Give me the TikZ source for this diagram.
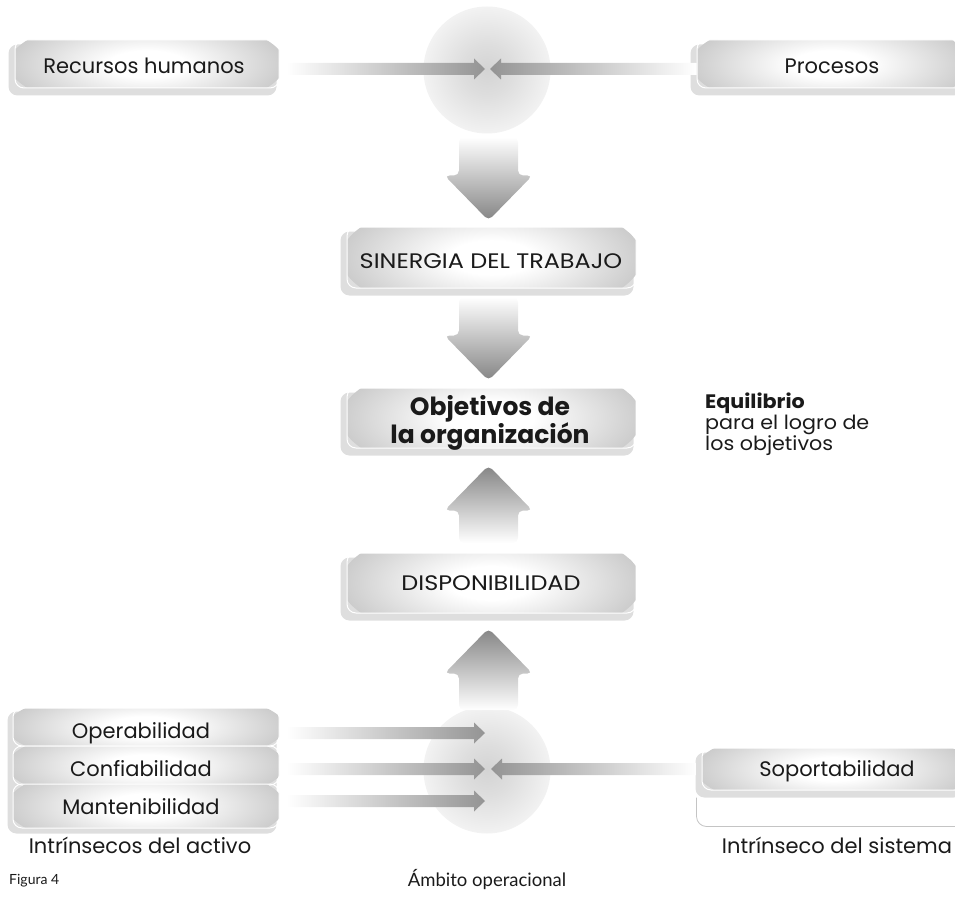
\documentclass[tikz,border=0pt]{standalone}
\usepackage{fontspec}
\setmainfont{Poppins}
\newfontfamily\capsfont[FakeStretch=1.14]{Poppins}
\newfontfamily\eqfont[FakeStretch=1.06]{Poppins}
\newfontfamily\capfont{Lato}
\usetikzlibrary{calc,backgrounds}
\definecolor{txt}{HTML}{1A1A1A}
\definecolor{rimline}{HTML}{C4C4C4}
\pgfdeclareradialshading{boxshade}{\pgfpoint{0bp}{0bp}}{color(0bp)=(white); color(7bp)=(white); color(25bp)=(white!80!black); color(50bp)=(white!80!black)}
\pgfdeclareradialshading{ballshade}{\pgfpoint{0bp}{0bp}}{color(0bp)=(white!83!black); color(10bp)=(white!87!black); color(25bp)=(white!95!black); color(50bp)=(white!95!black)}
\newcommand\blockarrowh[4]{%
  \path[#4] ($(#1)+(0,-6)$) -- ($(#2)+({-11*#3},-6)$) -- ($(#2)+({-11*#3},-10.5)$) -- (#2) -- ($(#2)+({-11*#3},10.5)$) -- ($(#2)+({-11*#3},6)$) -- ($(#1)+(0,6)$) -- cycle;}
\newcommand\blockarrowv[4]{%
  \path[#4, rounded corners=5pt] ($(#1)+(-29.5,0)$) -- ($(#2)+(-29.5,{-45*#3})$) -- ($(#2)+(-44,{-45*#3})$) -- (#2) -- ($(#2)+(44,{-45*#3})$) -- ($(#2)+(29.5,{-45*#3})$) -- ($(#1)+(29.5,0)$) -- cycle;}
\tikzset{
  gbox/.style 2 args={rounded corners=9pt, draw=white, line width=1pt, inner sep=0pt,
    minimum width=#1pt, minimum height=#2pt,
    path picture={\shade[shading=boxshade] (path picture bounding box.center) ellipse ({#1/2+6} and {#2*1.0});}},
  backbox/.style={fill=white!87!black, rounded corners=9pt},
  lbl/.style={text=txt, font=\fontsize{21}{24}\selectfont, inner sep=0pt, text height=0.7em, text depth=0pt},
  capslbl/.style={lbl, font=\capsfont\fontsize{21}{24}\selectfont},
  ball/.style={shade, shading=ballshade},
  arrR/.style={shade, left color=white, right color=white!58!black},
  arrL/.style={shade, right color=white, left color=white!58!black},
  arrD/.style={shade, top color=white, bottom color=white!52!black},
  arrU/.style={shade, bottom color=white, top color=white!52!black},
}
\begin{document}
\begin{tikzpicture}[x=1pt,y=-1pt]
\useasboundingbox (0,0) rectangle (955,920);
\clip (0,0) rectangle (955,920);

% circles
\path[ball] (487,70) circle (63.5) coordinate (ctop);
\path[ball] (487,770) circle (63.5) coordinate (cbot);
\coordinate (ctopc) at (487,70);
\coordinate (cbotc) at (487,770);

% boxes
\node[gbox={264}{48}] (rhbox) at (147,64) {};
\node[gbox={268}{48}] (prbox) at (831,64) {};
\node[gbox={289}{61}] (sybox) at (491.5,257.5) {};
\node[gbox={289}{60}] (obbox) at (491.5,418) {};
\node[gbox={289}{60}] (dibox) at (491.5,583) {};
\node[gbox={266}{38}] (opbox) at (146,727) {};
\node[gbox={266}{39}] (cobox) at (146,765.5) {};
\node[gbox={266}{44}] (mabox) at (146,806) {};
\node[gbox={263}{42}] (sobox) at (833.5,769) {};

\begin{scope}[on background layer]
  \foreach \b in {rhbox,prbox,sybox,obbox,dibox,sobox}{
    \path[backbox] ($(\b.south west)+(-6,7)$) rectangle ($(\b.north east)+(-3,5)$);
  }
  \path[backbox] ($(mabox.south west)+(-5,5)$) rectangle ($(opbox.north east)+(-3,4)$);
\end{scope}

% labels
\node[lbl] (rh) at (144,70) {Recursos humanos};
\node[lbl] (pr) at (832,70) {Procesos};
\node[capslbl] (sy) at (491,265) {SINERGIA DEL TRABAJO};
\node[text=txt, align=center, inner sep=0pt, font=\bfseries\fontsize{25}{25}\selectfont] (ob) at (490,423) {Objetivos de\\la organización};
\node[capslbl] (di) at (491,587) {DISPONIBILIDAD};
\node[lbl] (op) at (141,735) {Operabilidad};
\node[lbl] (co) at (141,773) {Confiabilidad};
\node[lbl] (ma) at (141,811) {Mantenibilidad};
\node[lbl] (so) at (837,773) {Soportabilidad};
\node[lbl] (ia) at (140,850) {Intrínsecos del activo};
\node[lbl] (is) at (837,850) {Intrínseco del sistema};
\node[anchor=north west, align=left, inner sep=0pt, text=txt, font=\eqfont\fontsize{19.5}{19.5}\selectfont] (eq) at (705,393) {\textbf{Equilibrio}\\para el logro de\\los objetivos};
\node[anchor=west, inner sep=0pt, text=txt, font=\capfont\fontsize{14}{16}\selectfont] (fig) at (9,881) {Figura 4};
\node[inner sep=0pt, text=txt, font=\capfont\fontsize{18.5}{21}\selectfont] (amb) at (487,880) {Ámbito operacional};

% soportabilidad outline
\draw[rimline, line width=0.8pt, rounded corners=10pt] ($(sobox.south west)+(-5,7)$) coordinate (rl1) -- ($(sobox.south west)+(-5,36)$) -- ($(sobox.south east)+(0,36)$) coordinate (rl2);

% horizontal arrows
\coordinate (h1a) at ($(rhbox.east |- ctopc)+(7,-1)$);
\coordinate (h1b) at ($(ctopc)+(-2,-1)$);
\coordinate (h2a) at ($(prbox.west |- ctopc)+(0,-1)$);
\coordinate (h2b) at ($(ctopc)+(3,-1)$);
\blockarrowh{h1a}{h1b}{1}{arrR}
\blockarrowh{h2a}{h2b}{-1}{arrL}

\coordinate (opa) at (287,733);
\coordinate (opb) at (485,733);
\coordinate (coa) at (287,769);
\coordinate (cob) at (485,769);
\coordinate (maa) at (287,801);
\coordinate (mab) at (485,801);
\coordinate (soa) at ($(sobox.west |- cob)+(-5,0)$);
\coordinate (sob) at (491,769);
\blockarrowh{opa}{opb}{1}{arrR}
\blockarrowh{coa}{cob}{1}{arrR}
\blockarrowh{maa}{mab}{1}{arrR}
\blockarrowh{soa}{sob}{-1}{arrL}

% vertical arrows
\coordinate (d1a) at (488.5,137);
\coordinate (d1b) at ($(sybox.north -| d1a)+(0,-6)$);
\coordinate (d2a) at (488.5,297);
\coordinate (d2b) at ($(obbox.north -| d2a)+(0,-7)$);
\coordinate (u1a) at (488.5,543);
\coordinate (u1b) at ($(obbox.south -| u1a)+(0,17)$);
\coordinate (u2a) at (488.5,710);
\coordinate (u2b) at ($(dibox.south -| u2a)+(0,15)$);
\blockarrowv{d1a}{d1b}{1}{arrD}
\blockarrowv{d2a}{d2b}{1}{arrD}
\blockarrowv{u1a}{u1b}{-1}{arrU}
\blockarrowv{u2a}{u2b}{-1}{arrU}
\end{tikzpicture}
\end{document}
